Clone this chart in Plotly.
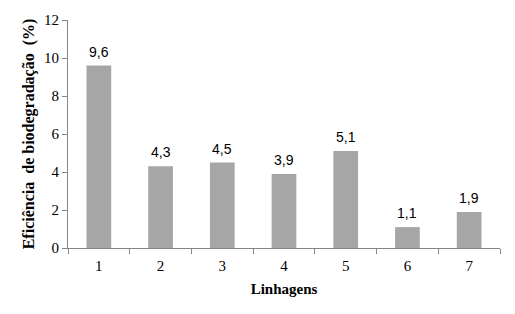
import plotly.graph_objects as go

categories = ["1", "2", "3", "4", "5", "6", "7"]
values = [9.6, 4.3, 4.5, 3.9, 5.1, 1.1, 1.9]
y_ticks = [0, 2, 4, 6, 8, 10, 12]

fig = go.Figure(go.Bar(
    x=categories, y=values,
    marker=dict(color="#A6A6A6", line=dict(width=0)),
    width=0.4,
))

for i, v in enumerate(values):
    fig.add_annotation(
        x=i, y=v, xref="x", yref="y",
        text=f"{v:.1f}".replace(".", ","), showarrow=False,
        yanchor="bottom", yshift=4,
        font=dict(family="Liberation Sans", size=14, color="#000000"),
    )

fig.update_layout(
    width=515, height=314,
    margin=dict(l=68, r=15, t=15, b=66),
    paper_bgcolor="white", plot_bgcolor="white",
    showlegend=False,
    font=dict(family="Liberation Serif", color="#000000"),
)
fig.update_xaxes(
    type="category", tickson="boundaries", ticks="outside", ticklen=5,
    range=[-0.5, 6.5],
    tickcolor="#868686", showline=True, linecolor="#868686", linewidth=1,
    showgrid=False, tickfont=dict(family="Liberation Serif", size=15),
    ticklabelstandoff=4,
    title=dict(text="<b>Linhagens</b>", font=dict(family="Liberation Serif", size=15), standoff=10),
)
fig.update_yaxes(
    range=[0, 12], tickvals=y_ticks, ticks="outside", ticklen=5,
    tickcolor="#868686", showline=True, linecolor="#868686", linewidth=1,
    showgrid=False, zeroline=False, tickfont=dict(family="Liberation Serif", size=15),
    title=dict(text="<b>Eficiência  de biodegradação  (%)</b>", font=dict(family="Liberation Serif", size=16), standoff=5),
)

fig.write_html("out.html")
